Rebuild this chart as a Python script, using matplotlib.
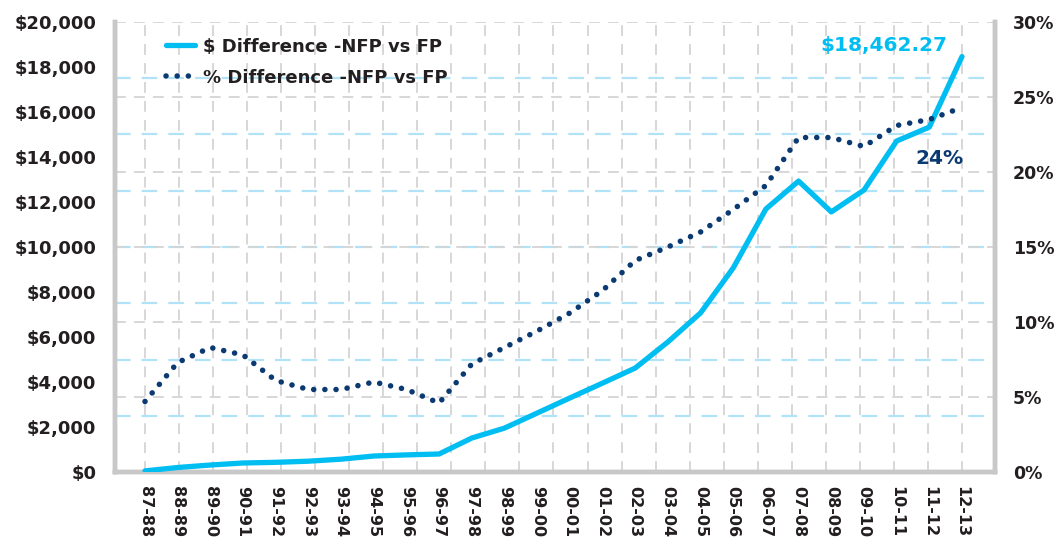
import numpy as np
import matplotlib
matplotlib.use("Agg")
import matplotlib.pyplot as plt
from matplotlib.ticker import FuncFormatter, MultipleLocator

plt.rcParams['font.family'] = ['DejaVu Sans']
plt.rcParams['font.weight'] = 'bold'

categories = ["87-88", "88-89", "89-90", "90-91", "91-92", "92-93", "93-94",
              "94-95", "95-96", "96-97", "97-98", "98-99", "99-00", "00-01",
              "01-02", "02-03", "03-04", "04-05", "05-06", "06-07", "07-08",
              "08-09", "09-10", "10-11", "11-12", "12-13"]
dollar_diff = [50, 200, 310, 400, 430, 480, 570, 710, 760, 800, 1510, 1950,
               2620, 3290, 3950, 4620, 5780, 7070, 9070, 11690, 12930, 11560,
               12530, 14710, 15330, 18462.27]
pct_diff = [4.7, 7.3, 8.3, 7.8, 6.1, 5.5, 5.5, 6.0, 5.5, 4.6, 7.2, 8.3, 9.4,
            10.6, 12.1, 14.1, 15.0, 16.0, 17.5, 19.1, 22.3, 22.3, 21.7, 23.1,
            23.5, 24.3]
series_labels = ["$ Difference -NFP vs FP", "% Difference -NFP vs FP"]
dollar_label = "$18,462.27"
pct_label = "24%"

LIGHT = '#00bdf2'
NAVY = '#0b3a73'
TXT = '#231f20'
SPINE = '#c8c8c8'

fig = plt.figure(figsize=(10.64, 5.41), dpi=100)
pos = [115/1064, 1 - 472/541, 880/1064, 450/541]
ax = fig.add_axes(pos)
axp = ax.twinx()

x = np.arange(len(categories))
ax.set_xlim(-0.918, 26.01)
ax.set_ylim(0, 20000)
axp.set_ylim(0, 30)

# gray grid (horizontal at right-axis ticks, vertical evenly spaced)
for pv in [5, 10, 15, 20, 25, 30]:
    axp.axhline(pv, color='#d4d4d4', lw=1.3, ls=(0, (6, 4.5)), zorder=0.5)
for xv in np.linspace(0, 25, 25):
    ax.axvline(xv, color='#d4d4d4', lw=1.3, ls=(0, (6, 4.5)), zorder=0.5)
# light-blue dashed lines at eighths of the dollar axis
for yv in np.arange(2500, 20000, 2500):
    ax.axhline(yv, color='#b0e2f8', lw=1.6, ls=(0, (7, 5)), zorder=0.6)

ax.yaxis.set_major_locator(MultipleLocator(2000))
ax.set_xticks(x)
ax.set_xticklabels(categories, rotation=270, fontsize=11.5, fontweight='bold', color=TXT)
ax.yaxis.set_major_formatter(FuncFormatter(lambda v, p: f"${v:,.0f}"))
axp.yaxis.set_major_locator(MultipleLocator(5))
axp.yaxis.set_major_formatter(FuncFormatter(lambda v, p: f"{v:.0f}%"))
for lab in ax.get_yticklabels():
    lab.set_fontsize(13); lab.set_fontweight('bold'); lab.set_color(TXT)
for lab in axp.get_yticklabels():
    lab.set_fontsize(12.5); lab.set_fontweight('bold'); lab.set_color(TXT)
ax.tick_params(axis='y', length=0, pad=13.5)
ax.tick_params(axis='x', length=0, pad=10)
axp.tick_params(axis='y', length=0, pad=13)

for a in (ax, axp):
    a.spines['top'].set_visible(False)
    for s in ('left', 'right', 'bottom'):
        a.spines[s].set_color(SPINE)
        a.spines[s].set_linewidth(3.2)

# overlay axes for lines (above grids)
axl = fig.add_axes(pos, sharex=ax, sharey=ax)
axr = fig.add_axes(pos, sharex=ax, sharey=axp)
for a in (axl, axr):
    a.set_axis_off()
    a.patch.set_visible(False)

l1, = axl.plot(x, dollar_diff, color=LIGHT, lw=3.8, solid_capstyle='round',
               solid_joinstyle='round', label=series_labels[0])
l2, = axr.plot(x, pct_diff, color=NAVY, lw=4.0, ls=(0, (0.01, 2.0)),
               dash_capstyle='round', label=series_labels[1])

leg = axr.legend(handles=[l1, l2], loc='upper left', bbox_to_anchor=(0.058, 0.965),
                 frameon=False, borderpad=0, borderaxespad=0,
                 handlelength=1.6, handletextpad=0.45, labelspacing=0.72,
                 prop={'weight': 'bold', 'size': 13})
for t in leg.get_texts():
    t.set_color(TXT)

axr.text((884-115)/880, (472-46)/450, dollar_label, transform=axr.transAxes,
         ha='center', va='center', color=LIGHT, fontsize=14.5, fontweight='bold')
axr.text((939-115)/880, (472-158)/450, pct_label, transform=axr.transAxes,
         ha='center', va='center', color=NAVY, fontsize=14.5, fontweight='bold')

fig.savefig('out.png', dpi=100)
